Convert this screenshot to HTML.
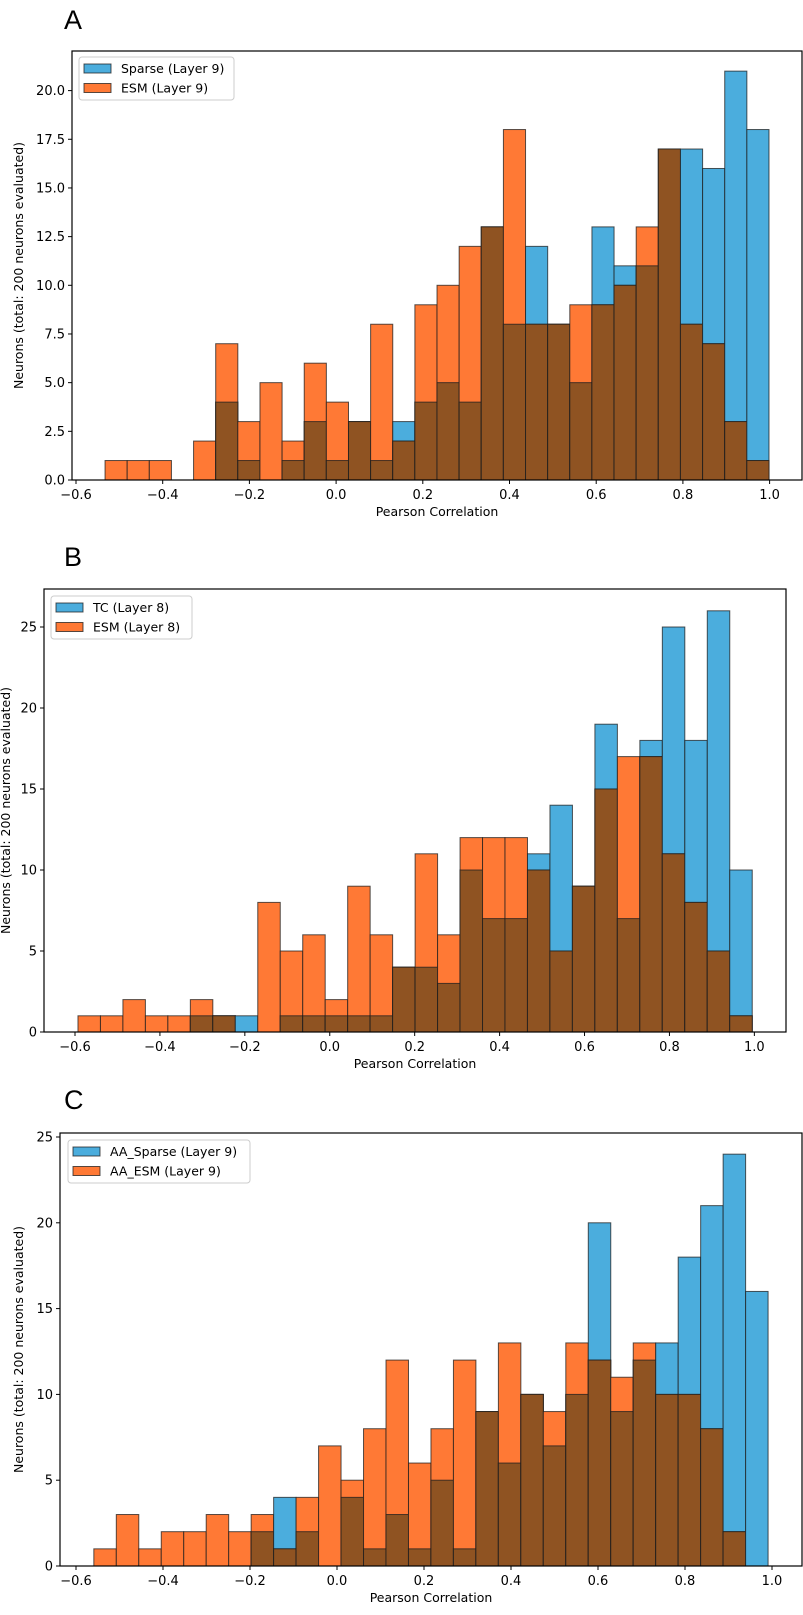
<!DOCTYPE html>
<html><head><meta charset="utf-8">
<style>
html,body{margin:0;padding:0;background:#fff;}
svg{display:block;font-family:"DejaVu Sans","Liberation Sans",sans-serif;}
</style></head>
<body>
<svg id="fig" width="803" height="1615" viewBox="0 0 803 1615" xmlns="http://www.w3.org/2000/svg"></svg>
<script>
// Panel A data (30 shared bins)
const aBlue   = [0,0,0,0,0,4,1,0,1,3,1,3,1,3,4,5,4,13,8,12,8,5,13,11,11,17,17,16,21,18];
const aOrange = [1,1,1,0,2,7,3,5,2,6,4,3,8,2,9,10,12,13,18,8,8,9,9,10,13,17,8,7,3,1];
const aYTicks = [0,2.5,5,7.5,10,12.5,15,17.5,20];
const aYLabels = ["0.0","2.5","5.0","7.5","10.0","12.5","15.0","17.5","20.0"];
// Panel B data
const bBlue   = [0,0,0,0,0,1,1,1,0,1,1,1,1,1,4,4,3,10,7,7,11,14,9,19,7,18,25,18,26,10];
const bOrange = [1,1,2,1,1,2,1,0,8,5,6,2,9,6,4,11,6,12,12,12,10,5,9,15,17,17,11,8,5,1];
const bYTicks = [0,5,10,15,20,25];
const bYLabels = ["0","5","10","15","20","25"];
// Panel C data
const cBlue   = [0,0,0,0,0,0,0,2,4,2,0,4,1,3,1,5,1,9,6,10,7,10,20,9,12,13,18,21,24,16];
const cOrange = [1,3,1,2,2,3,2,3,1,4,7,5,8,12,6,8,12,9,13,10,9,13,12,11,13,10,10,8,2,0];
const cYTicks = [0,5,10,15,20,25];
const cYLabels = ["0","5","10","15","20","25"];
const xTicks = [-0.6,-0.4,-0.2,0.0,0.2,0.4,0.6,0.8,1.0];
const xLabels = ["\u22120.6","\u22120.4","\u22120.2","0.0","0.2","0.4","0.6","0.8","1.0"];

const NS = "http://www.w3.org/2000/svg";
const svg = document.getElementById('fig');
function mk(tag, attrs, parent){
  const e = document.createElementNS(NS, tag);
  for (const k in attrs) e.setAttribute(k, attrs[k]);
  (parent||svg).appendChild(e);
  return e;
}
const BLUE="#4baddd", ORANGE="#ff7935", BROWN="#8f5322", EDGE="rgba(30,30,30,0.75)";

function panel(cfg){
  const g = mk('g', {});
  
  
  const xs = v => cfg.x0 + (v - (-0.6)) * cfg.xu;
  const ys = v => cfg.yb - v * cfg.yu;
  const binStart = cfg.binStart, binW = cfg.binW;
  const n = cfg.blue.length;
  // bars
  for (let i=0;i<n;i++){
    const l = xs(binStart + i*binW), r = xs(binStart + (i+1)*binW);
    const b = cfg.blue[i], o = cfg.orange[i];
    if (b>0){
      const rb = mk('rect', {x:l, y:ys(b), width:r-l, height:ys(0)-ys(b), fill:BLUE, stroke:EDGE, 'stroke-width':1}, g);
      
      
    }
    if (o>0){
      const ro = mk('rect', {x:l, y:ys(o), width:r-l, height:ys(0)-ys(o), fill:ORANGE, stroke:EDGE, 'stroke-width':1}, g);
      
      
    }
    const m = Math.min(b,o);
    if (m>0){
      const rm = mk('rect', {x:l, y:ys(m), width:r-l, height:ys(0)-ys(m), fill:BROWN, stroke:EDGE, 'stroke-width':1}, g);
      
      
    }
  }
  // frame
  const fr = mk('rect', {x:cfg.x0l, y:cfg.yt, width:cfg.xr-cfg.x0l, height:cfg.yb-cfg.yt, fill:'none', stroke:'#000', 'stroke-width':1.2}, g);
  
  
  // x ticks
  for (let i=0;i<xTicks.length;i++){
    const x = xs(xTicks[i]);
    mk('line', {x1:x, y1:cfg.yb, x2:x, y2:cfg.yb+4, stroke:'#000', 'stroke-width':1}, g);
    const t = mk('text', {x:x, y:cfg.yb+19, 'font-size':13, 'text-anchor':'middle', fill:'#000'}, g);
    t.textContent = xLabels[i];
    
    
  }
  // y ticks
  for (let i=0;i<cfg.yTicks.length;i++){
    const y = ys(cfg.yTicks[i]);
    mk('line', {x1:cfg.x0l-4, y1:y, x2:cfg.x0l, y2:y, stroke:'#000', 'stroke-width':1}, g);
    const t = mk('text', {x:cfg.x0l-7, y:y+4.5, 'font-size':13, 'text-anchor':'end', fill:'#000'}, g);
    t.textContent = cfg.yLabels[i];
    
    
  }
  // axis titles
  const xt = mk('text', {x:(cfg.x0l+cfg.xr)/2, y:cfg.yb+36, 'font-size':12.5, 'text-anchor':'middle', fill:'#000'}, g);
  xt.textContent = 'Pearson Correlation';
  
  
  const cy = (cfg.yt+cfg.yb)/2;
  const yt = mk('text', {x:cfg.ylx, y:cy, 'font-size':12.5, 'text-anchor':'middle', fill:'#000', transform:`rotate(-90 ${cfg.ylx} ${cy})`}, g);
  yt.textContent = 'Neurons (total: 200 neurons evaluated)';
  
  
  // panel letter
  const pl = mk('text', {x:cfg.letterX, y:cfg.letterY, 'font-size':27, fill:'#000', 'font-family':'"Liberation Sans", sans-serif'}, g);
  pl.textContent = cfg.letter;
  
  
  // legend
  const L = cfg.leg;
  const lg = mk('g', {}, g);
  
  
  mk('rect', {x:L.x, y:L.y, width:L.w, height:43, rx:3, fill:'rgba(255,255,255,0.8)', stroke:'#ccc', 'stroke-width':1}, lg);
  const entries = [[BLUE, cfg.names[0]], [ORANGE, cfg.names[1]]];
  for (let i=0;i<2;i++){
    const yy = L.y + 7 + i*19.5;
    const sw = mk('rect', {x:L.x+5, y:yy, width:27, height:9, fill:entries[i][0], stroke:EDGE, 'stroke-width':1}, lg);
    
    
    const tx = mk('text', {x:L.x+42, y:yy+9, 'font-size':12.5, fill:'#000'}, lg);
    tx.textContent = entries[i][1];
    
    
  }
}

panel({name:'panel-a', letter:'A', letterX:64, letterY:29,
  x0:76, xu:433.5, x0l:72, xr:802, yt:51, yb:480, yu:19.47,
  binStart:-0.533, binW:(0.9986+0.533)/30,
  blue:aBlue, orange:aOrange, yTicks:aYTicks, yLabels:aYLabels,
  ylx:23, leg:{x:79, y:57, w:155}, names:['Sparse (Layer 9)','ESM (Layer 9)']});

panel({name:'panel-b', letter:'B', letterX:64, letterY:566,
  x0:75, xu:424.6, x0l:44, xr:786, yt:589, yb:1032, yu:16.2,
  binStart:-0.593, binW:(0.995+0.593)/30,
  blue:bBlue, orange:bOrange, yTicks:bYTicks, yLabels:bYLabels,
  ylx:10, leg:{x:51, y:596, w:141}, names:['TC (Layer 8)','ESM (Layer 8)']});

panel({name:'panel-c', letter:'C', letterX:64, letterY:1109,
  x0:76, xu:435, x0l:60, xr:802, yt:1133, yb:1566, yu:17.16,
  binStart:-0.559, binW:(0.991+0.559)/30,
  blue:cBlue, orange:cOrange, yTicks:cYTicks, yLabels:cYLabels,
  ylx:23, leg:{x:68, y:1140, w:182}, names:['AA_Sparse (Layer 9)','AA_ESM (Layer 9)']});
</script>
</body></html>
